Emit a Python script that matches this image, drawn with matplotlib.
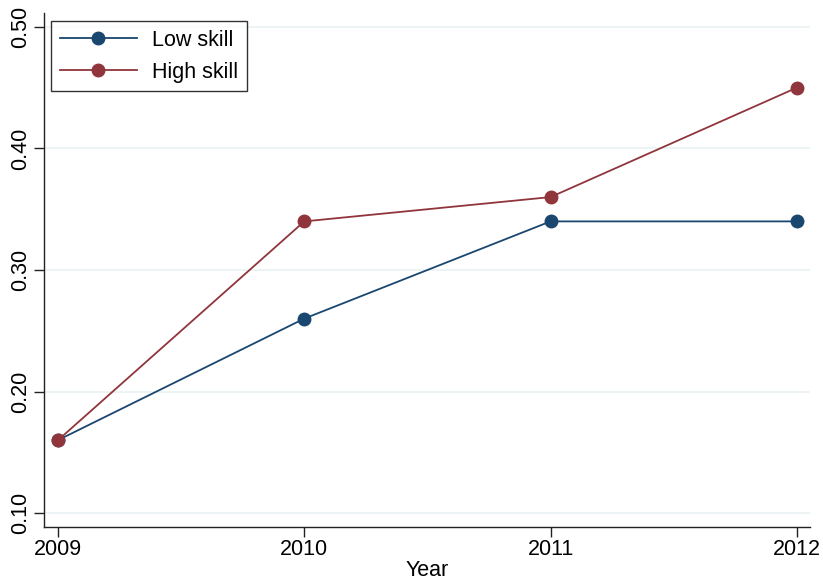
import matplotlib.pyplot as plt

years = [2009, 2010, 2011, 2012]
low_skill = [0.16, 0.26, 0.34, 0.34]
high_skill = [0.16, 0.34, 0.36, 0.45]
yticks = [0.10, 0.20, 0.30, 0.40, 0.50]

plt.rcParams['font.family'] = ['Liberation Sans', 'DejaVu Sans']

fig = plt.figure(figsize=(8.23, 5.8), dpi=100)
ax = fig.add_axes([0.0535, 0.0914, 0.9305, 0.8862])

ax.plot(years, low_skill, color='#1a476f', lw=1.3, marker='o', ms=9, label='Low skill')
ax.plot(years, high_skill, color='#90353b', lw=1.3, marker='o', ms=9, label='High skill')

ax.set_xlim(2008.943, 2012.053)
ax.set_ylim(0.0885, 0.5115)
ax.set_xticks(years)
ax.set_yticks(yticks)
ax.set_yticklabels(['%.2f' % v for v in yticks], rotation=90, va='center')
ax.tick_params(labelsize=15.5, length=7, width=1, color='#222222', pad=2)
ax.grid(axis='y', color='#eaf2f3', lw=1.2)
ax.set_axisbelow(True)
for s in ['top', 'right']:
    ax.spines[s].set_visible(False)
for s in ['left', 'bottom']:
    ax.spines[s].set_color('#222222')
    ax.spines[s].set_linewidth(1)

ax.set_xlabel('Year', fontsize=15.5, labelpad=0)

leg = ax.legend(loc='upper left', bbox_to_anchor=(0.009, 0.984), borderaxespad=0,
                fontsize=15.5, frameon=True, fancybox=False, edgecolor='black',
                handlelength=3.6, borderpad=0.4, labelspacing=0.5, handletextpad=0.7)
leg.get_frame().set_linewidth(1)

plt.savefig('out.png', dpi=100)
